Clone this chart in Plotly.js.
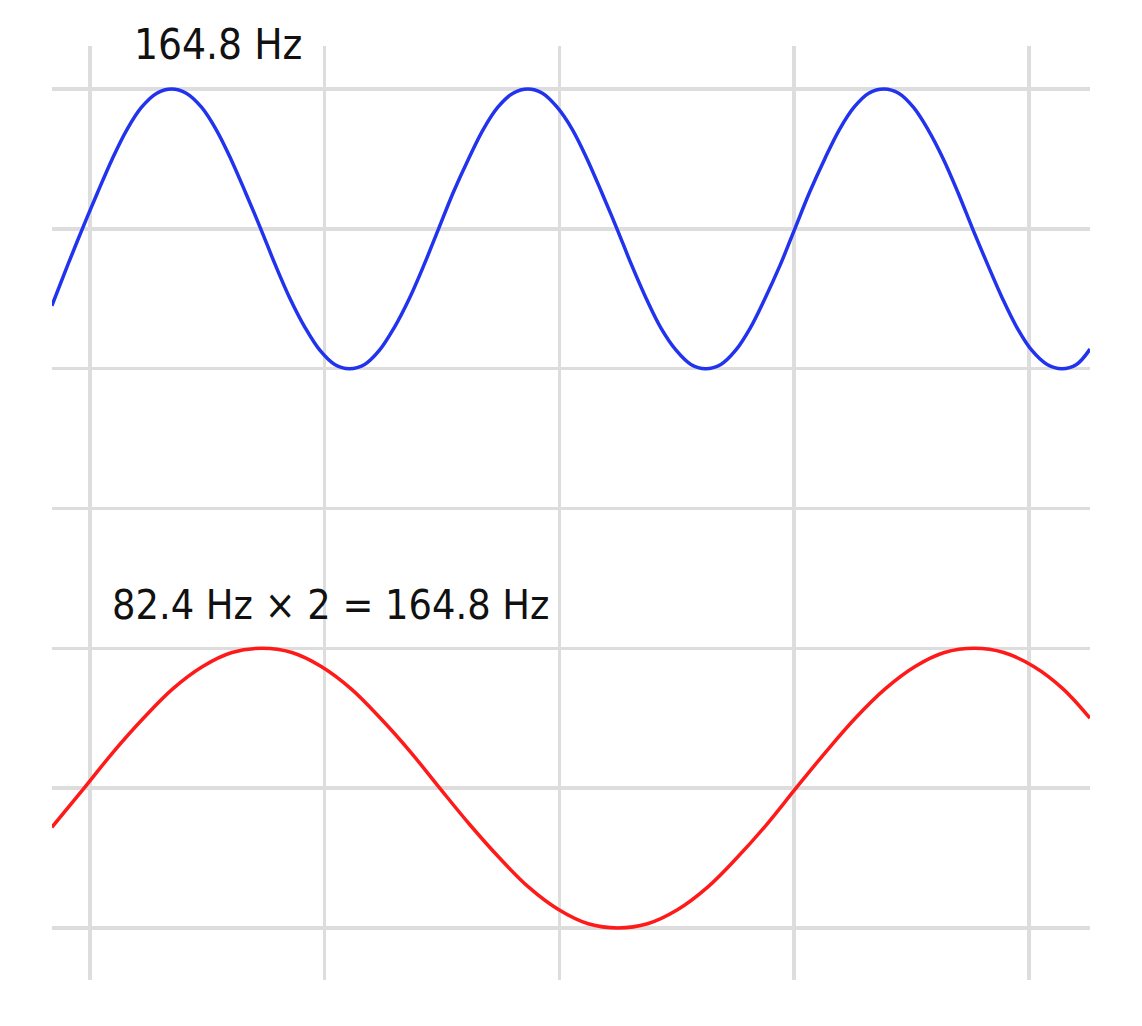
<!DOCTYPE html>
<html>
<head>
<meta charset="utf-8">
<script src="https://cdn.plot.ly/plotly-3.0.1.min.js"></script>
<style>
  html, body { margin: 0; padding: 0; background: #fff; }
  #plot { width: 1142px; height: 1026px; }
</style>
</head>
<body>
<div id="plot"></div>
<script>
// time in ms; each wave sits on its own band of the shared y axis
var highX = [-0.65, -0.38, -0.13, 0.13, 0.38, 0.63, 0.88, 1.14, 1.39, 1.64, 1.90, 2.15,
             2.40, 2.65, 2.91, 3.16, 3.41, 3.67, 3.92, 4.17, 4.42, 4.68, 4.93, 5.18,
             5.44, 5.69, 5.94, 6.19, 6.45, 6.70, 6.95, 7.21, 7.46, 7.71, 7.96, 8.22,
             8.47, 8.72, 8.98, 9.23, 9.48, 9.73, 9.99, 10.24, 10.49, 10.75, 11.00, 11.25,
             11.50, 11.76, 12.01, 12.26, 12.52, 12.77, 13.02, 13.27, 13.53, 13.78, 14.03, 14.28,
             14.54, 14.79, 15.04, 15.30, 15.55, 15.80, 16.05, 16.31, 16.56, 16.81, 17.04]
var highY = [1.45, 1.74, 2.00, 2.26, 2.50, 2.71, 2.87, 2.97, 3.00, 2.97, 2.87, 2.71,
             2.50, 2.26, 2.00, 1.74, 1.50, 1.29, 1.13, 1.03, 1.00, 1.03, 1.13, 1.29,
             1.50, 1.74, 2.00, 2.26, 2.50, 2.71, 2.87, 2.97, 3.00, 2.97, 2.87, 2.71,
             2.50, 2.26, 2.00, 1.74, 1.50, 1.29, 1.13, 1.03, 1.00, 1.03, 1.13, 1.29,
             1.50, 1.74, 2.00, 2.26, 2.50, 2.71, 2.87, 2.97, 3.00, 2.97, 2.87, 2.71,
             2.50, 2.26, 2.00, 1.74, 1.50, 1.29, 1.13, 1.03, 1.00, 1.03, 1.14]

var lowX = [-0.65, -0.10, 0.40, 0.91, 1.41, 1.92, 2.42, 2.93, 3.44, 3.94, 4.45, 4.95,
            5.46, 5.96, 6.47, 6.98, 7.48, 7.99, 8.49, 9.00, 9.50, 10.01, 10.52, 11.02,
            11.53, 12.03, 12.54, 13.04, 13.55, 14.06, 14.56, 15.07, 15.57, 16.08, 16.58, 17.04]
var lowY = [-2.28, -2.00, -1.74, -1.50, -1.29, -1.13, -1.03, -1.00, -1.03, -1.13, -1.29, -1.50,
            -1.74, -2.00, -2.26, -2.50, -2.71, -2.87, -2.97, -3.00, -2.97, -2.87, -2.71, -2.50,
            -2.26, -2.00, -1.74, -1.50, -1.29, -1.13, -1.03, -1.00, -1.03, -1.13, -1.29, -1.50]

var xTicks = [0, 4, 8, 12, 16]
var yTicks = [-3, -2, -1, 0, 1, 2, 3]

var labels = ["164.8 Hz", "82.4 Hz × 2 = 164.8 Hz"]
var labelX = [0.72, 0.34]
var labelY = [1.002, 0.402]   // paper fraction of the plot height
var labelSize = [42, 41]

var data = [
  {
    x: highX, y: highY, mode: "lines",
    line: {color: "#2233ee", width: 3.5, shape: "spline"},
    hoverinfo: "skip"
  },
  {
    x: lowX, y: lowY, mode: "lines",
    line: {color: "#ff1a1a", width: 3.5, shape: "spline"},
    hoverinfo: "skip"
  }
]

var annotations = []
for (var i = 0; i < labels.length; i++){
  annotations.push({
    text: labels[i], x: labelX[i], y: labelY[i],
    xref: "x", yref: "paper", xanchor: "left", yanchor: "middle",
    showarrow: false,
    font: {family: "DejaVu Sans Condensed, DejaVu Sans, sans-serif", size: labelSize[i], color: "#111"}
  })
}

var layout = {
  width: 1142, height: 1026,
  margin: {l: 52, r: 52, t: 46, b: 46},
  paper_bgcolor: "#fff", plot_bgcolor: "#fff",
  showlegend: false,
  xaxis: {
    range: [-0.647, 17.04], tickvals: xTicks, showticklabels: false,
    showgrid: true, gridcolor: "#dddddd", gridwidth: 3.5,
    zeroline: false, showline: false, ticks: ""
  },
  yaxis: {
    range: [-3.372, 3.3075], tickvals: yTicks, showticklabels: false,
    showgrid: true, gridcolor: "#dddddd", gridwidth: 3.5,
    zeroline: false, showline: false, ticks: ""
  },
  annotations: annotations
}

Plotly.newPlot("plot", data, layout, {displayModeBar: false, staticPlot: true})
</script>
</body>
</html>
